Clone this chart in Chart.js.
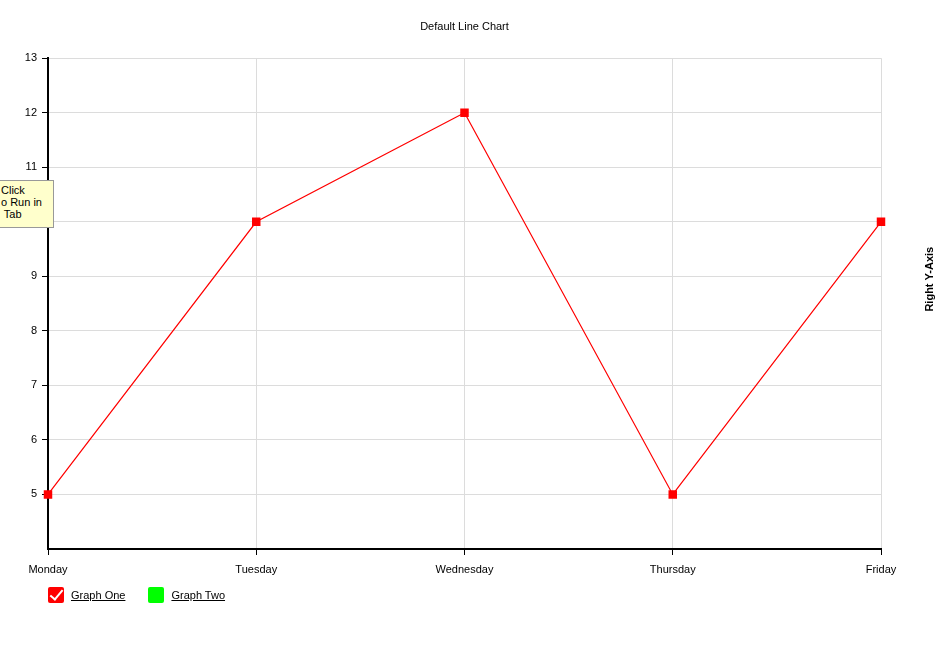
<!DOCTYPE html>
<html>
<head>
<meta charset="utf-8">
<script src="https://cdn.jsdelivr.net/npm/chart.js@4.4.0/dist/chart.umd.min.js"></script>
<style>
  html, body { margin: 0; padding: 0; background: #fff; }
  body { width: 948px; height: 645px; position: relative; overflow: hidden;
         font-family: "Liberation Sans", Arial, Helvetica, sans-serif; }
  #wrap { position: absolute; left: 0; top: 0; width: 948px; height: 645px; }
  #legend { position: absolute; left: 48px; top: 587px; display: flex; font-size: 11px; }
  .item { display: flex; align-items: center; margin-right: 23px; cursor: pointer; }
  .box { width: 16px; height: 16px; border-radius: 2px; position: relative; margin-right: 7px; }
  .box.on::after { content: ""; position: absolute; left: 5px; top: 0px; width: 5px; height: 11px;
                   border: solid #fff; border-width: 0 2px 2px 0; transform: rotate(40deg); }
  .item span { text-decoration: underline; color: #000; }
  #tip { position: absolute; left: -1px; top: 180px; width: 52px; height: 43px;
         background: #ffffcc; border: 1px solid #999; font-size: 11px; line-height: 12px;
         padding: 3px 0 0 1px; box-sizing: content-box; white-space: pre; }
</style>
</head>
<body>
<div id="wrap"><canvas id="chart" width="948" height="645"></canvas></div>
<div id="legend"></div>
<div id="tip">Click
o Run in
 Tab</div>
<script>
// dữ liệu
const days = ['Monday', 'Tuesday', 'Wednesday', 'Thursday', 'Friday'];
const graphOne = [5, 10, 12, 5, 10];
const graphTwo = [];
const seriesNames = ['Graph One', 'Graph Two'];
const seriesColors = ['#ff0000', '#00ff00'];
const yMin = 4;
const yMax = 13;

// nhãn trục phải, xoay -90
const rightTitle = {
  id: 'rightTitle',
  afterDraw(chart) {
    const { ctx, chartArea } = chart;
    ctx.save();
    ctx.translate(chartArea.right + 49, chartArea.top + 221);
    ctx.rotate(-Math.PI / 2);
    ctx.font = 'bold 11px "Liberation Sans", Arial, sans-serif';
    ctx.fillStyle = '#000';
    ctx.textAlign = 'center';
    ctx.textBaseline = 'middle';
    ctx.fillText('Right Y-Axis', 0, 0);
    ctx.restore();
  }
};

Chart.defaults.font.family = '"Liberation Sans", Arial, Helvetica, sans-serif';
Chart.defaults.font.size = 11;
Chart.defaults.color = '#000';

const chart = new Chart(document.getElementById('chart'), {
  type: 'line',
  data: {
    labels: days,
    datasets: [
      {
        label: seriesNames[0],
        data: graphOne,
        borderColor: seriesColors[0],
        backgroundColor: seriesColors[0],
        borderWidth: 1.2,
        pointStyle: 'rect',
        pointRadius: 6,
        pointBorderWidth: 0,
        tension: 0
      },
      {
        label: seriesNames[1],
        data: graphTwo,
        borderColor: seriesColors[1],
        backgroundColor: seriesColors[1],
        borderWidth: 1.2,
        pointStyle: 'rect',
        pointRadius: 6,
        hidden: true
      }
    ]
  },
  options: {
    responsive: false,
    animation: false,
    layout: { padding: { left: 0, right: 67, top: 0, bottom: 0 } },
    plugins: {
      legend: { display: false },
      tooltip: { enabled: false },
      title: {
        display: true,
        fullSize: false,
        text: 'Default Line Chart',
        font: { size: 11, weight: 'normal' },
        color: '#000',
        padding: { top: 20, bottom: 25 }
      }
    },
    scales: {
      x: {
        offset: false,
        grid: {
          color: '#dcdcdc',
          lineWidth: 1,
          tickLength: 6,
          tickColor: '#000'
        },
        border: { color: '#000', width: 2 },
        ticks: { padding: 8, maxRotation: 0, autoSkip: false },
        afterFit: s => { s.height = 96; }
      },
      y: {
        min: yMin,
        max: yMax,
        grid: {
          color: '#dcdcdc',
          lineWidth: 1,
          tickLength: 6,
          tickColor: c => (c.tick && c.tick.value === yMin ? 'rgba(0,0,0,0)' : '#000')
        },
        border: { color: '#000', width: 2 },
        ticks: {
          stepSize: 1,
          padding: 5,
          callback: v => (v === yMin ? '' : v)
        },
        afterFit: s => { s.width = 48; }
      }
    }
  },
  plugins: [rightTitle]
});

// chú giải HTML
const legendEl = document.getElementById('legend');
chart.data.datasets.forEach((ds, i) => {
  const item = document.createElement('div');
  item.className = 'item';
  const box = document.createElement('div');
  box.className = 'box' + (chart.isDatasetVisible(i) ? ' on' : '');
  box.style.background = ds.borderColor;
  const txt = document.createElement('span');
  txt.textContent = ds.label;
  item.appendChild(box);
  item.appendChild(txt);
  legendEl.appendChild(item);
});
</script>
</body>
</html>
